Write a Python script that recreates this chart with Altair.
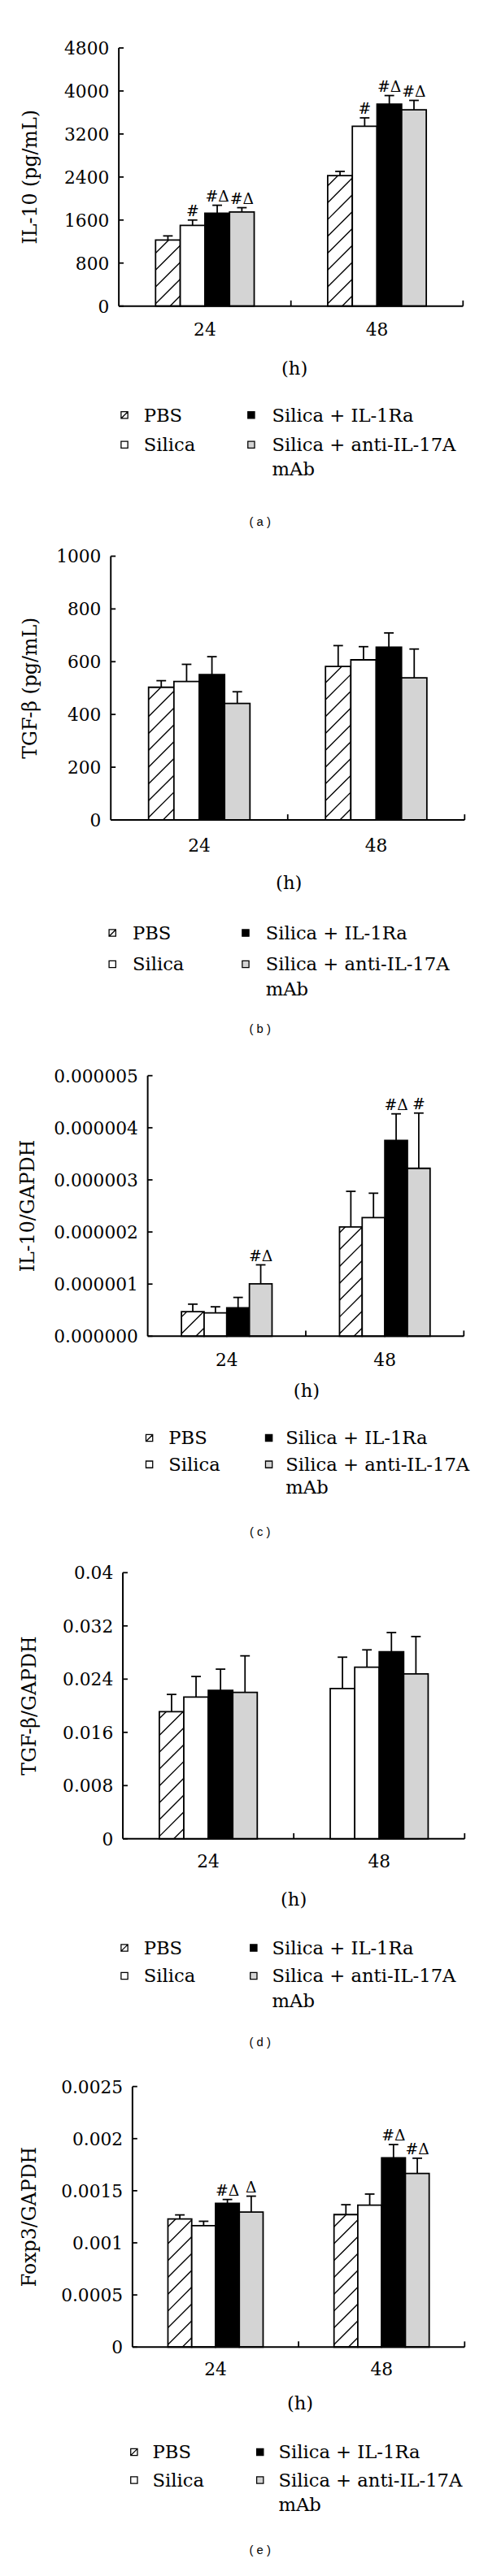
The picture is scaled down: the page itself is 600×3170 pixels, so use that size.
import altair as alt
import pandas as pd

# ---------------- data ----------------
GROUPS = ["24", "48"]
SERIES = ["PBS", "Silica", "Silica + IL-1Ra", "Silica + anti-IL-17A\nmAb"]
FILLS = ["white", "white", "black", "#d4d4d4"]
X_TITLE = "(h)"

A_TITLE = "IL-10 (pg/mL)"
A_TICKS = [0, 800, 1600, 2400, 3200, 4000, 4800]
A_MEAN = [[1230, 1500, 1725, 1750], [2425, 3345, 3755, 3650]]
A_ERR = [[75, 100, 150, 80], [80, 155, 160, 175]]
A_NOTE = [["", "#", "#Δ", "#Δ"], ["", "#", "#Δ", "#Δ"]]
A_HATCH = [True, True]

B_TITLE = "TGF-β (pg/mL)"
B_TICKS = [0, 200, 400, 600, 800, 1000]
B_MEAN = [[503, 525, 551, 442], [582, 607, 655, 539]]
B_ERR = [[25, 65, 68, 44], [79, 50, 54, 109]]
B_NOTE = [["", "", "", ""], ["", "", "", ""]]
B_HATCH = [True, True]

C_TITLE = "IL-10/GAPDH"
C_TICKS = [0, 0.000001, 0.000002, 0.000003, 0.000004, 0.000005]
C_MEAN = [[0.00000047, 0.000000446, 0.000000544, 0.000001005],
          [0.000002097, 0.000002277, 0.000003759, 0.000003221]]
C_ERR = [[0.000000145, 0.000000118, 0.0000002, 0.000000364],
         [0.000000683, 0.000000467, 0.000000508, 0.000001061]]
C_NOTE = [["", "", "", "#Δ"], ["", "", "#Δ", "#"]]
C_HATCH = [True, True]

D_TITLE = "TGF-β/GAPDH"
D_TICKS = [0, 0.008, 0.016, 0.024, 0.032, 0.04]
D_MEAN = [[0.0191, 0.0213, 0.0223, 0.0220], [0.0226, 0.0258, 0.0281, 0.0248]]
D_ERR = [[0.0026, 0.0031, 0.0032, 0.0055], [0.0047, 0.0026, 0.0029, 0.0056]]
D_NOTE = [["", "", "", ""], ["", "", "", ""]]
D_HATCH = [True, False]

E_TITLE = "Foxp3/GAPDH"
E_TICKS = [0, 0.0005, 0.001, 0.0015, 0.002, 0.0025]
E_MEAN = [[0.00123, 0.001165, 0.00138, 0.001296], [0.001271, 0.001361, 0.001815, 0.001666]]
E_ERR = [[0.000038, 0.000042, 0.000036, 0.000152], [0.000095, 0.000107, 0.000128, 0.000146]]
E_NOTE = [["", "", "#Δ", "Δ"], ["", "", "#Δ", "#Δ"]]
E_HATCH = [True, True]

CAPTIONS = ["( a )", "( b )", "( c )", "( d )", "( e )"]

# ---------------- layout (pixels inside each 592x634 panel slot) ----------------
SLOT_W, SLOT_H = 592, 634
GROUP_FRAC = 0.573
FONT = "DejaVu Serif"
TICK_FS, TITLE_FS, LEG_FS, NOTE_FS = 22, 24, 23, 19

LAYOUTS = [
    dict(plot=(140, 569, 30, 352), fmt="d", ytx=30, hx=359, hy=77, xlab=30,
         legx=(147, 171, 305, 331), legy=(136, 173, 203), cap=621),
    dict(plot=(130, 571, 30, 359), fmt="d", ytx=30, hx=352, hy=78, xlab=33,
         legx=(132, 157, 298, 323), legy=(141, 180, 211), cap=620),
    dict(plot=(176, 570, 44, 369), fmt=".6f", ytx=27, hx=374, hy=68, xlab=30,
         legx=(178, 202, 327, 348), legy=(127, 160, 188), cap=613),
    dict(plot=(145, 571, 30, 362), fmt="~g", ytx=29, hx=358, hy=75, xlab=29,
         legx=(147, 171, 308, 331), legy=(136, 171, 202), cap=616),
    dict(plot=(157, 571, 37, 362), fmt="~g", ytx=29, hx=366, hy=70, xlab=28,
         legx=(159, 182, 316, 339), legy=(131, 166, 197), cap=615),
]

PANELS = [
    (A_TITLE, A_TICKS, A_MEAN, A_ERR, A_NOTE, A_HATCH),
    (B_TITLE, B_TICKS, B_MEAN, B_ERR, B_NOTE, B_HATCH),
    (C_TITLE, C_TICKS, C_MEAN, C_ERR, C_NOTE, C_HATCH),
    (D_TITLE, D_TICKS, D_MEAN, D_ERR, D_NOTE, D_HATCH),
    (E_TITLE, E_TICKS, E_MEAN, E_ERR, E_NOTE, E_HATCH),
]


def hatch_lines(x0, x1, value, sx, sy, spacing=21.0, phase=3.0):
    w = (x1 - x0) * sx
    hb = value * sy
    out = []
    k = -int((w + phase) // spacing) - 1
    while True:
        c = phase + k * spacing
        if c >= hb:
            break
        xs = max(0.0, -c)
        xe = min(w, hb - c)
        if xe > xs + 0.5:
            out.append(dict(hx=x0 + xs / sx, hy=(xs + c) / sy,
                            hx2=x0 + xe / sx, hy2=(xe + c) / sy))
        k += 1
    return out


def make_panel(spec, lay, caption):
    title, ticks, mean, err, note, hatch = spec
    xl, xr, yt, yb = lay["plot"]
    ymax = ticks[-1]
    ng = len(GROUPS)
    sx = (xr - xl) / ng
    sy = (yb - yt) / ymax
    bw = GROUP_FRAC / len(SERIES)

    rows, hrows = [], []
    for g in range(ng):
        for i in range(len(SERIES)):
            x0 = g + 0.5 - GROUP_FRAC / 2 + i * bw
            x1 = x0 + bw
            m, e = mean[g][i], err[g][i]
            rows.append(dict(x0=x0, x1=x1, xc=(x0 + x1) / 2, base=0.0, mean=m,
                             top=m + e, note=note[g][i], fill=FILLS[i]))
            if i == 0 and hatch[g]:
                hrows += hatch_lines(x0, x1, m, sx, sy)
    bar_df = pd.DataFrame(rows)
    h_df = pd.DataFrame(hrows)

    xs = alt.Scale(domain=[0, ng], range=[xl, xr], nice=False, zero=False)
    ys = alt.Scale(domain=[0, ymax], range=[yb, yt], nice=False, zero=False)

    def X(f):
        return alt.X(f, scale=xs, axis=None)

    def Y(f):
        return alt.Y(f, scale=ys, axis=None)

    layers = []
    layers.append(alt.Chart(bar_df).mark_rect(stroke="black", strokeWidth=1.8).encode(
        x=X("x0:Q"), x2="x1:Q", y=Y("base:Q"), y2="mean:Q",
        fill=alt.Fill("fill:N", scale=None)))
    if len(h_df):
        layers.append(alt.Chart(h_df).mark_rule(stroke="black", strokeWidth=1.4).encode(
            x=X("hx:Q"), x2="hx2:Q", y=Y("hy:Q"), y2="hy2:Q"))
    layers.append(alt.Chart(bar_df).mark_rule(stroke="black", strokeWidth=1.8).encode(
        x=X("xc:Q"), y=Y("mean:Q"), y2="top:Q"))
    layers.append(alt.Chart(bar_df).mark_rule(stroke="black", strokeWidth=1.8,
                                              xOffset=-6, x2Offset=6).encode(
        x=X("xc:Q"), x2="xc:Q", y=Y("top:Q")))
    layers.append(alt.Chart(bar_df).mark_text(font=FONT, fontSize=NOTE_FS, baseline="alphabetic",
                                              dy=-5, color="black").encode(
        x=X("xc:Q"), y=Y("top:Q"), text="note:N"))

    # axes: domain lines, inward ticks and tick labels, all through the scales
    dom_df = pd.DataFrame({"x0": [0.0], "x1": [float(ng)], "y0": [0.0], "y1": [float(ymax)]})
    layers.append(alt.Chart(dom_df).mark_rule(stroke="black", strokeWidth=2).encode(
        x=X("x0:Q"), x2="x1:Q", y=Y("y0:Q")))
    layers.append(alt.Chart(dom_df).mark_rule(stroke="black", strokeWidth=2).encode(
        x=X("x0:Q"), y=Y("y0:Q"), y2="y1:Q"))

    yt_df = pd.DataFrame({"v": ticks, "zero": [0.0] * len(ticks)})
    layers.append(alt.Chart(yt_df).mark_rule(stroke="black", strokeWidth=1.8, x2Offset=6).encode(
        x=X("zero:Q"), x2="zero:Q", y=Y("v:Q")))
    layers.append(alt.Chart(yt_df).mark_text(font=FONT, fontSize=TICK_FS, align="right",
                                             baseline="middle", dx=-12, dy=1,
                                             color="black").encode(
        x=X("zero:Q"), y=Y("v:Q"), text=alt.Text("v:Q", format=lay["fmt"])))

    bounds = list(range(1, ng + 1))
    xt_df = pd.DataFrame({"v": bounds, "zero": [0.0] * len(bounds)})
    layers.append(alt.Chart(xt_df).mark_rule(stroke="black", strokeWidth=1.8, y2Offset=-7).encode(
        x=X("v:Q"), y=Y("zero:Q"), y2="zero:Q"))
    xl_df = pd.DataFrame({"g": GROUPS, "pos": [k + 0.5 for k in range(ng)],
                          "zero": [0.0] * ng})
    layers.append(alt.Chart(xl_df).mark_text(font=FONT, fontSize=TICK_FS, align="center",
                                             baseline="middle", dy=lay["xlab"],
                                             color="black").encode(
        x=X("pos:Q"), y=Y("zero:Q"), text="g:N"))

    def text_layer(txt, px, py, **mk):
        return alt.Chart(pd.DataFrame({"t": [txt]})).mark_text(color="black", **mk).encode(
            x=alt.value(px), y=alt.value(py), text="t:N")

    layers.append(text_layer(title, lay["ytx"], (yt + yb) / 2, font=FONT, fontSize=TITLE_FS,
                             angle=270, align="center", baseline="middle"))
    layers.append(text_layer(X_TITLE, lay["hx"], yb + lay["hy"] + 1, font=FONT, fontSize=23,
                             align="center", baseline="middle"))

    lx, ly = lay["legx"], lay["legy"]
    lh = ly[2] - ly[1]
    for i, s in enumerate(SERIES):
        col, row = i // 2, i % 2
        py = yb + ly[row]
        shape = "M-1,-1H1V1H-1Z M-1,1L1,-1" if i == 0 else "square"
        layers.append(alt.Chart(pd.DataFrame({"t": [s]})).mark_point(
            shape=shape, filled=True, fill=FILLS[i], stroke="black", strokeWidth=1.3,
            size=70, opacity=1).encode(x=alt.value(lx[col * 2]), y=alt.value(py)))
        for j, line in enumerate(s.split("\n")):
            layers.append(text_layer(line, lx[col * 2 + 1], py + 1 + j * lh, font=FONT,
                                     fontSize=LEG_FS, align="left", baseline="middle"))

    layers.append(text_layer(caption, 316, lay["cap"], font="Liberation Sans", fontSize=15,
                             align="center", baseline="middle"))

    return alt.layer(*layers).properties(width=SLOT_W, height=SLOT_H)


panels = [make_panel(PANELS[k], LAYOUTS[k], CAPTIONS[k]) for k in range(len(PANELS))]

chart = alt.vconcat(*panels, spacing=0, bounds="flush").properties(
    padding=0, background="white").configure_view(strokeWidth=0)

chart.save("out.html", embed_options={"renderer": "svg", "actions": False})
